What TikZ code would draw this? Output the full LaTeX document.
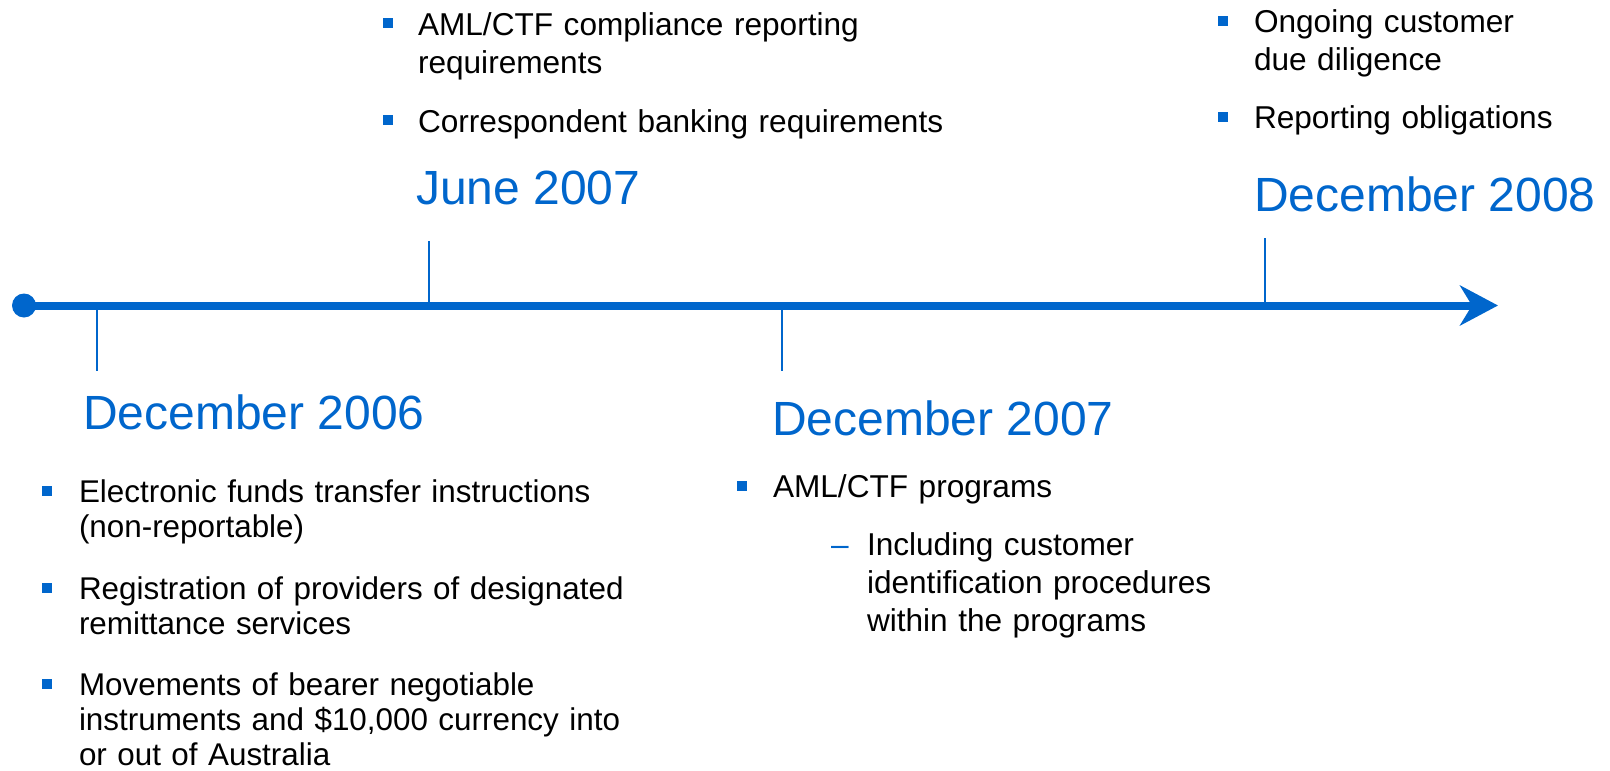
\documentclass[tikz,border=0pt]{standalone}
\usepackage{fontspec}
\setmainfont{Liberation Sans}
\usetikzlibrary{arrows.meta}
\definecolor{tblue}{HTML}{0066CC}
\begin{document}
\begin{tikzpicture}[x=1pt,y=-1pt,
  every node/.style={inner sep=0pt, outer sep=0pt},
  title/.style={anchor=base west, text=tblue, font=\fontsize{48}{57}\selectfont},
  body/.style={anchor=base west, align=left, text width=700pt, font=\fontsize{31.6}{38}\selectfont},
  bodytight/.style={anchor=base west, align=left, text width=700pt, font=\fontsize{31.4}{35}\selectfont},
  bul/.style={fill=tblue, minimum size=9.5pt, inner sep=0pt},
  tickline/.style={draw=tblue, line width=2.5pt},
  axis/.style={draw=tblue, line width=8pt, -{Stealth[length=38pt,width=40pt,inset=12pt]}}]
\useasboundingbox (0,0) rectangle (1610,771);

% axis
\node[circle, fill=tblue, minimum size=24pt] (dot) at (24,305.5) {};
\coordinate (axisend) at (1498,305.5);
\draw[axis] (dot.center) -- (axisend);

% ticks
\coordinate (t1a) at (97,305.5);   \coordinate (t1b) at (97,371);
\coordinate (t2a) at (429,305.5);  \coordinate (t2b) at (429,241);
\coordinate (t3a) at (782,305.5);  \coordinate (t3b) at (782,371);
\coordinate (t4a) at (1265,305.5); \coordinate (t4b) at (1265,238);
\draw[tickline] (t1a) -- (t1b);
\draw[tickline] (t2a) -- (t2b);
\draw[tickline] (t3a) -- (t3b);
\draw[tickline] (t4a) -- (t4b);

% June 2007
\node[bul] (b21) at (388,23) {};
\node[body] (i21) at (418,35) {AML/CTF compliance reporting\\requirements};
\node[bul] (b22) at (388,120) {};
\node[body] (i22) at (418,132) {Correspondent banking requirements};
\node[title] (jun07) at (416,204) {June 2007};

% December 2008
\node[bul] (b41) at (1223,21) {};
\node[body] (i41) at (1254,32) {Ongoing customer\\due diligence};
\node[bul] (b42) at (1223,117) {};
\node[body] (i42) at (1254,128) {Reporting obligations};
\node[title] (dec08) at (1254,211) {December 2008};

% December 2006
\node[title] (dec06) at (83,429) {December 2006};
\node[bul] (b11) at (47,491) {};
\node[bodytight] (i11) at (79,502) {Electronic funds transfer instructions\\(non-reportable)};
\node[bul] (b12) at (47,588) {};
\node[bodytight] (i12) at (79,599) {Registration of providers of designated\\remittance services};
\node[bul] (b13) at (47,684) {};
\node[bodytight] (i13) at (79,695) {Movements of bearer negotiable\\instruments and \$10,000 currency into\\or out of Australia};

% December 2007
\node[title] (dec07) at (772,435) {December 2007};
\node[bul] (b31) at (742,486) {};
\node[body] (i31) at (773,497) {AML/CTF programs};
\node[body, text width=20pt, text=tblue] (d31) at (831,555) {–};
\node[body] (i32) at (867,555) {Including customer\\identification procedures\\within the programs};
\end{tikzpicture}
\end{document}
